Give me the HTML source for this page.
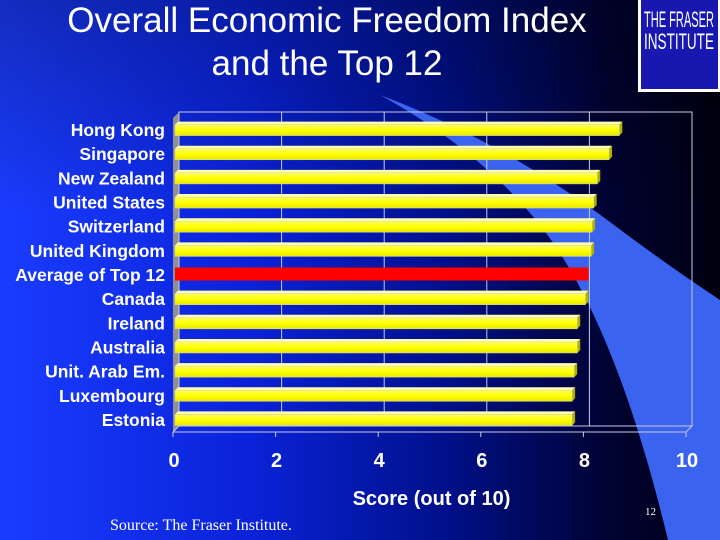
<!DOCTYPE html>
<html><head><meta charset="utf-8"><style>
html,body{margin:0;padding:0;width:720px;height:540px;overflow:hidden;background:#000;}
svg{display:block;}
</style></head><body>
<svg width="720" height="540" viewBox="0 0 720 540" xmlns="http://www.w3.org/2000/svg">
<defs>
<linearGradient id="bg" x1="0" y1="0" x2="1" y2="0">
<stop offset="0" stop-color="#1a3cff"/><stop offset="0.35" stop-color="#0a22d8"/><stop offset="0.62" stop-color="#00108a"/><stop offset="0.85" stop-color="#000230"/><stop offset="1" stop-color="#000010"/>
</linearGradient>
<linearGradient id="bgv" x1="0" y1="0" x2="0" y2="1">
<stop offset="0" stop-color="#000" stop-opacity="0.25"/><stop offset="0.4" stop-color="#000" stop-opacity="0"/>
</linearGradient>
<linearGradient id="bar" x1="0" y1="0" x2="0" y2="1">
<stop offset="0" stop-color="#ffff60"/><stop offset="0.5" stop-color="#ffff00"/><stop offset="1" stop-color="#e8e800"/>
</linearGradient>
</defs>
<rect width="720" height="540" fill="url(#bg)"/>
<rect width="720" height="540" fill="url(#bgv)"/>
<path d="M380,95 Q480,150 540,225 Q615,320 668,540 L720,540 L720,300 Q660,260 610,222 Q500,140 380,95 Z" fill="#3a64f0"/>
<text x="327" y="32" fill="#fff" font-family="Liberation Sans, sans-serif" font-size="35" text-anchor="middle">Overall Economic Freedom Index</text>
<text x="327" y="75" fill="#fff" font-family="Liberation Sans, sans-serif" font-size="35" text-anchor="middle">and the Top 12</text>
<g>
<rect x="638" y="0" width="82" height="92" fill="#fff"/>
<rect x="641" y="0" width="77" height="89" fill="#1818b0"/>
<text x="644" y="27" fill="#fff" font-family="Liberation Sans, sans-serif" font-size="22" textLength="70" lengthAdjust="spacingAndGlyphs">THE FRASER</text>
<text x="644" y="49" fill="#fff" font-family="Liberation Sans, sans-serif" font-size="22" textLength="70" lengthAdjust="spacingAndGlyphs">INSTITUTE</text>
</g>
<g id="chart"></g>
<text x="110" y="530" fill="#fff" font-family="Liberation Serif, serif" font-size="16">Source: The Fraser Institute.</text>
<text x="645" y="515" fill="#fff" font-family="Liberation Serif, serif" font-size="11">12</text>
</svg>
<script>
const categories=["Hong Kong","Singapore","New Zealand","United States","Switzerland","United Kingdom","Average of Top 12","Canada","Ireland","Australia","Unit. Arab Em.","Luxembourg","Estonia"];
const scores=[8.7,8.5,8.27,8.2,8.17,8.15,8.1,8.04,7.88,7.88,7.82,7.78,7.78];
const highlight=[false,false,false,false,false,false,true,false,false,false,false,false,false];
const xTicks=[0,2,4,6,8,10];
const NS="http://www.w3.org/2000/svg";
const g=document.getElementById('chart');
const x0=173,sc=51.3,dx=6,dy=-6,top0=118,bottom=432,rowH=(bottom-top0)/13;
const X=v=>x0+v*sc;
const Y=i=>top0+rowH*(i+0.5);
function mk(t,a){const e=document.createElementNS(NS,t);for(const k in a)e.setAttribute(k,a[k]);g.appendChild(e);return e;}
let w=mk('rect',{x:X(0)+dx,y:top0+dy,width:X(10)-X(0),height:bottom-top0,fill:'none',stroke:'#c8c8e0','stroke-width':1});


let side=mk('polygon',{points:`${X(0)},${top0} ${X(0)+dx},${top0+dy} ${X(0)+dx},${bottom+dy} ${X(0)},${bottom}`,fill:'#909090'});


let fl=mk('polygon',{points:`${X(0)},${bottom} ${X(0)+dx},${bottom+dy} ${X(10)+dx},${bottom+dy} ${X(10)},${bottom}`,fill:'none',stroke:'#c8c8e0'});


xTicks.forEach(t=>{
 let l=mk('line',{x1:X(t)+dx,y1:top0+dy,x2:X(t)+dx,y2:bottom+dy,stroke:'#c8c8e0','stroke-width':1});
 
 
 let tk=mk('line',{x1:X(t),y1:bottom,x2:X(t),y2:bottom+5,stroke:'#c8c8e0'});
 
 
 let tx=mk('text',{x:X(t)+1,y:bottom+35,fill:'#fff','font-family':'Liberation Sans, sans-serif','font-size':20,'font-weight':'bold','text-anchor':'middle'});
 tx.textContent=t;
 
 
});
let ttl=mk('text',{x:X(5)+2,y:505,fill:'#fff','font-family':'Liberation Sans, sans-serif','font-size':20,'font-weight':'bold','text-anchor':'middle'});
ttl.textContent='Score (out of 10)';


categories.forEach((c,i)=>{
 const y=Y(i),h=11,x1=X(0)+2,x2=X(scores[i]);
 const red=highlight[i];
 const bg=document.createElementNS(NS,'g');g.appendChild(bg);
 
 
 const add=(t,a)=>{const e=document.createElementNS(NS,t);for(const k in a)e.setAttribute(k,a[k]);bg.appendChild(e);return e;};
 if(!red){
  add('polygon',{points:`${x1},${y-h/2} ${x1+3},${y-h/2-3} ${x2+3},${y-h/2-3} ${x2},${y-h/2}`,fill:'#ffffb0'});
  add('polygon',{points:`${x2},${y-h/2} ${x2+3},${y-h/2-3} ${x2+3},${y+h/2-3} ${x2},${y+h/2}`,fill:'#b0b000'});
  add('rect',{x:x1,y:y-h/2,width:x2-x1,height:h,fill:'url(#bar)',stroke:'#d8d8a0','stroke-width':0.6});
 }else{
  add('rect',{x:x1,y:y-h/2-2,width:x2-x1,height:h+2,fill:'#ff0000'});
 }
 let lb=mk('text',{x:165,y:y+6,fill:'#fff','font-family':'Liberation Sans, sans-serif','font-size':17.5,'font-weight':'bold','text-anchor':'end'});
 lb.textContent=c;
 
 
});
</script>
</body></html>
